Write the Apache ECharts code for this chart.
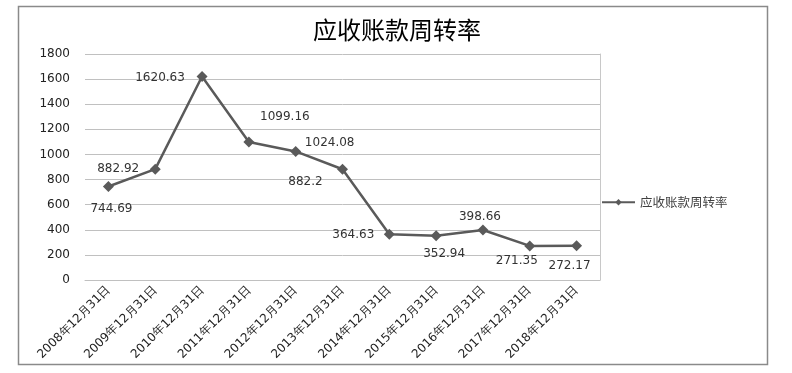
<!DOCTYPE html>
<html><head><meta charset="utf-8">
<script src="https://cdn.jsdelivr.net/npm/echarts@6/dist/echarts.min.js"></script>
<style>html,body{margin:0;padding:0;background:#fff}#c{width:792px;height:373px}</style>
</head><body><div id="c"></div>
<script>
const title = '应收账款周转率';
const seriesName = '应收账款周转率';
const categories = ['2008年12月31日','2009年12月31日','2010年12月31日','2011年12月31日','2012年12月31日','2013年12月31日','2014年12月31日','2015年12月31日','2016年12月31日','2017年12月31日','2018年12月31日'];
const values = [744.69, 882.92, 1620.63, 1099.16, 1024.08, 882.2, 364.63, 352.94, 398.66, 271.35, 272.17];
const yTicks = [0, 200, 400, 600, 800, 1000, 1200, 1400, 1600, 1800];
// label offsets (style only)
const labelOffsets = [[3,22],[-37,0],[-42,1],[36,-25],[34,-9],[-37,13],[-36,1],[8,18],[-3,-13],[-13,15],[-7,20]];

const chart = echarts.init(document.getElementById('c'));
chart.setOption({
  animation: false,
  backgroundColor: '#fff',
  title: {text: title, left: 392, top: 13, textAlign: 'center',
    textStyle: {fontFamily: 'Noto Sans CJK SC', fontSize: 24, fontWeight: 'normal', color: '#000'}},
  graphic: [{type: 'rect', shape: {x: 18.5, y: 6.5, width: 749, height: 358},
    style: {fill: 'none', stroke: '#8a8a8a', lineWidth: 1.5}, z: -1}],
  legend: {left: 601, top: 196, padding: 0, itemWidth: 33, itemHeight: 8, itemGap: 4,
    data: [seriesName],
    textStyle: {fontFamily: 'Noto Sans CJK SC', fontSize: 12.5, color: '#404040'}},
  grid: {left: 85, right: 192, top: 54, bottom: 93},
  xAxis: {type: 'category', data: categories, boundaryGap: true,
    axisLine: {lineStyle: {color: '#c0c0c0'}}, axisTick: {show: false},
    axisLabel: {rotate: 45, interval: 0, fontFamily: 'DejaVu Sans', fontSize: 12, color: '#222', margin: 8}},
  yAxis: [{type: 'value', min: yTicks[0], max: yTicks[yTicks.length-1], interval: 200,
    axisLine: {show: false}, axisTick: {show: false},
    splitLine: {lineStyle: {color: '#c0c0c0', width: 1}},
    axisLabel: {fontFamily: 'DejaVu Sans', fontSize: 12, color: '#222', margin: 15,
      formatter: v => String(v)}},
   {type: 'value', position: 'right', min: 0, max: 1800, interval: 200,
    axisLine: {show: true, lineStyle: {color: '#c8c8c8'}}, axisTick: {show: false},
    axisLabel: {show: false}, splitLine: {show: false}}],
  series: [{name: seriesName, type: 'line', data: values.map((v, i) => ({value: v,
      label: {offset: labelOffsets[i]}})),
    symbol: 'diamond', symbolSize: 11,
    lineStyle: {color: '#5a5a5a', width: 2.5},
    itemStyle: {color: '#5a5a5a'},
    label: {show: true, position: 'inside', align: 'center', verticalAlign: 'middle',
      fontFamily: 'DejaVu Sans', fontSize: 12, color: '#333',
      formatter: p => String(p.value)}}]
});
</script></body></html>
